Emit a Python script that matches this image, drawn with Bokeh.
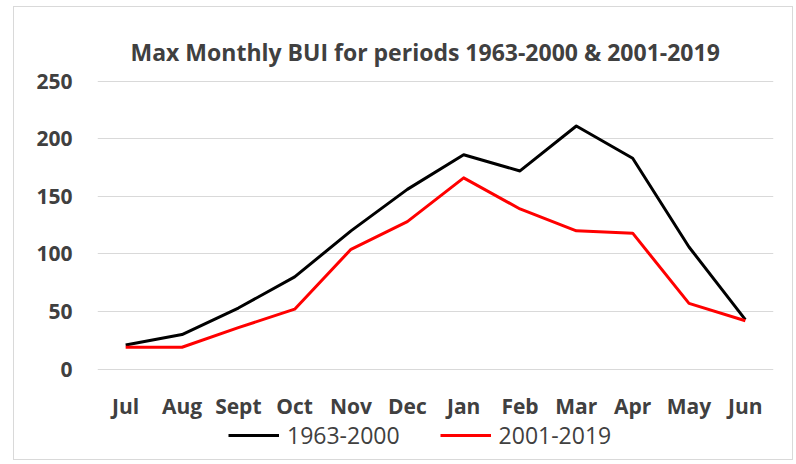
from bokeh.plotting import figure
from bokeh.models import FactorRange, Range1d, Legend, LegendItem, Title, FixedTicker
from bokeh.core.properties import value
from bokeh.embed import file_html
from bokeh.resources import INLINE

months = ["Jul", "Aug", "Sept", "Oct", "Nov", "Dec", "Jan", "Feb", "Mar", "Apr", "May", "Jun"]
bui_1963_2000 = [21, 30, 53, 80, 120, 156, 186, 172, 211, 183, 106, 43]
bui_2001_2019 = [19, 19, 36, 52, 104, 128, 166, 139, 120, 118, 57, 42]
y_ticks = [0, 50, 100, 150, 200, 250]

FONT = "Open Sans"
TXT = "#404040"

# frame runs to the bottom of the figure; 0 sits 93px above it so the month
# labels and legend can be drawn in the space beneath the zero line
p = figure(x_range=FactorRange(*months, range_padding=0), y_range=Range1d(-80.2, 250.5),
           width=780, height=454, x_axis_location=None,
           output_backend="svg", toolbar_location=None,
           min_border_left=83, min_border_right=21, min_border_top=73, min_border_bottom=0)
p.styles = {"border": "1px solid #d9d9d9", "margin": "6px 0 0 13px"}
p.outline_line_color = None

t = Title(text="Max Monthly BUI for periods 1963-2000 & 2001-2019", align="left",
          text_font=FONT, text_font_size="23px", text_font_style="bold", text_color=TXT,
          offset=33, standoff=26)
p.add_layout(t, "above")

r1 = p.line(months, bui_1963_2000, line_color="black", line_width=3, line_join="round")
r2 = p.line(months, bui_2001_2019, line_color="#ff0000", line_width=3, line_join="round")

# category labels beneath the zero line
p.text(x=months, y=[-32.1] * len(months), text=months, text_font=value(FONT),
       text_font_size="21px", text_font_style="bold", text_color=TXT,
       text_align="center", text_baseline="middle")

p.yaxis.ticker = FixedTicker(ticks=y_ticks)
ax = p.yaxis[0]
ax.axis_line_color = None
ax.major_tick_line_color = None
ax.minor_tick_line_color = None
ax.major_label_text_font = FONT
ax.major_label_text_font_size = "21px"
ax.major_label_text_font_style = "bold"
ax.major_label_text_color = TXT
ax.major_label_standoff = 19

p.xgrid.grid_line_color = None
p.ygrid.grid_line_color = "#d9d9d9"
p.ygrid.grid_line_width = 1

legend = Legend(items=[LegendItem(label="1963-2000", renderers=[r1]),
                       LegendItem(label="2001-2019", renderers=[r2])],
                orientation="horizontal", location=(131, 10),
                label_text_font=FONT, label_text_font_size="23px", label_text_color=TXT,
                label_height=24, glyph_height=24,
                glyph_width=51, spacing=40, border_line_color=None, background_fill_alpha=0,
                padding=0, margin=0, label_standoff=8)
p.add_layout(legend, "center")

open("out.html", "w").write(file_html(p, INLINE))
